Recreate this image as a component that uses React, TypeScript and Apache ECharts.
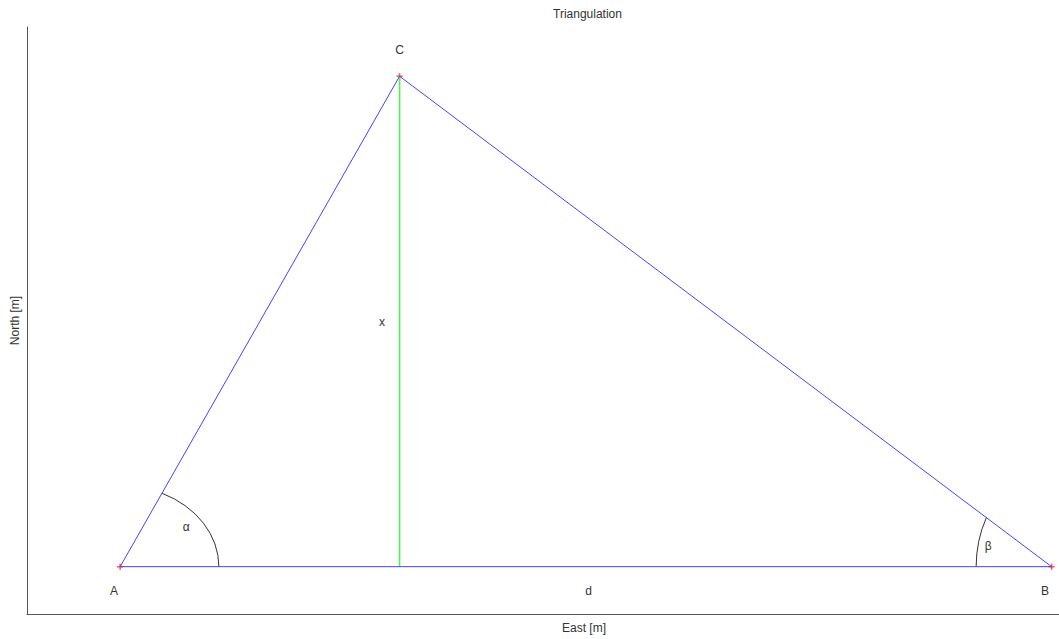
import React, { useEffect, useRef } from "react";
import * as echarts from "echarts";

// Vertices (m)
const vertexNames = ["A", "B", "C"];
const vertexX = [0, 1000, 300];
const vertexY = [0, 0, 518];

// Height foot
const footX = 300;

// Text labels
const labelNames = ["A", "B", "C", "d", "x", "α", "β"];
const labelX = [-6.5, 993, 300, 503, 281, 71, 932];
const labelY = [-25.7, -25.7, 545.7, -25.7, 258.4, 41.9, 21.9];

// Angle arcs: center, start point on base, end point on side, radii (m)
const arcCx = [0, 1000];
const arcCy = [0, 0];
const arcStartX = [106, 919];
const arcEndX = [45, 930];
const arcEndY = [77.5, 51.8];
const arcRx = [106, 81];
const arcRy = [85.6, 104.2];
const arcSweep = [0, 1];

const FONT = "'Liberation Sans', Arial, sans-serif";

export default function App() {
  const ref = useRef<HTMLDivElement>(null);
  useEffect(() => {
    if (!ref.current) return;
    const chart = echarts.init(ref.current, undefined, { renderer: "svg" });
    const tri = [0, 1, 2, 0].map((i) => [vertexX[i], vertexY[i]]);
    const arcs = arcCx.map((cx, i) => [
      cx,
      arcCy[i],
      arcStartX[i],
      0,
      arcEndX[i],
      arcEndY[i],
      arcRx[i],
      arcRy[i],
      arcSweep[i],
    ]);
    chart.setOption({
      animation: false,
      backgroundColor: "#ffffff",
      title: {
        text: "Triangulation",
        left: 553,
        top: 8,
        padding: 0,
        textStyle: { fontFamily: FONT, fontSize: 12, fontWeight: "normal", color: "#333" },
      },
      grid: {
        left: 27,
        right: -82,
        top: 27,
        bottom: 25,
        containLabel: false,
        outerBoundsMode: "none",
      },
      xAxis: {
        type: "value",
        min: -100,
        max: 1096,
        name: "East [m]",
        nameLocation: "middle",
        nameGap: 8,
        nameTextStyle: { fontFamily: FONT, fontSize: 12, color: "#333" },
        axisLine: { show: true, onZero: false, lineStyle: { color: "#555", width: 1 } },
        axisTick: { show: false },
        axisLabel: { show: false },
        splitLine: { show: false },
      },
      yAxis: {
        type: "value",
        min: -50,
        max: 570,
        name: "North [m]",
        nameLocation: "middle",
        nameGap: 6,
        nameTextStyle: { fontFamily: FONT, fontSize: 12, color: "#333" },
        axisLine: { show: true, onZero: false, lineStyle: { color: "#555", width: 1 } },
        axisTick: { show: false },
        axisLabel: { show: false },
        splitLine: { show: false },
      },
      series: [
        {
          type: "line",
          data: [
            [footX, 0],
            [vertexX[2], vertexY[2]],
          ],
          symbol: "none",
          lineStyle: { color: "#55f055", width: 1.6 },
          silent: true,
        },
        {
          type: "line",
          data: tri,
          symbol: "none",
          lineStyle: { color: "#4444ff", width: 1 },
          silent: true,
        },
        {
          type: "custom",
          data: arcs,
          encode: { x: [0, 2, 4], y: [1, 3, 5] },
          renderItem: (params: any, api: any) => {
            const s = api.coord([api.value(2), api.value(3)]);
            const e = api.coord([api.value(4), api.value(5)]);
            const sz = api.size([api.value(6), api.value(7)]);
            const sweep = api.value(8);
            const d = `M${s[0]},${s[1]} A${sz[0]},${sz[1]} 0 0 ${sweep} ${e[0]},${e[1]}`;
            return {
              type: "path",
              shape: { pathData: d },
              style: { stroke: "#333", fill: "none", lineWidth: 1 },
            };
          },
          silent: true,
        },
        {
          type: "scatter",
          data: vertexX.map((x, i) => ({ name: vertexNames[i], value: [x, vertexY[i]] })),
          symbol: "path://M5,0 L5,10 M0,5 L10,5",
          symbolSize: 6,
          itemStyle: { color: "none", borderColor: "#ff2222", borderWidth: 1.5 },
          silent: true,
        },
        {
          type: "custom",
          data: labelNames.map((n, i) => ({ name: n, value: [labelX[i], labelY[i]] })),
          encode: { x: 0, y: 1 },
          renderItem: (params: any, api: any) => {
            const p = api.coord([api.value(0), api.value(1)]);
            return {
              type: "text",
              x: p[0],
              y: p[1],
              style: {
                text: labelNames[params.dataIndex],
                fill: "#333",
                font: `12px ${FONT}`,
                align: "center",
                verticalAlign: "middle",
              },
            };
          },
          silent: true,
        },
      ],
    });
    return () => chart.dispose();
  }, []);
  return (
    <div
      ref={ref}
      style={{ position: "absolute", left: 0, top: 0, width: 1059, height: 639 }}
    />
  );
}
